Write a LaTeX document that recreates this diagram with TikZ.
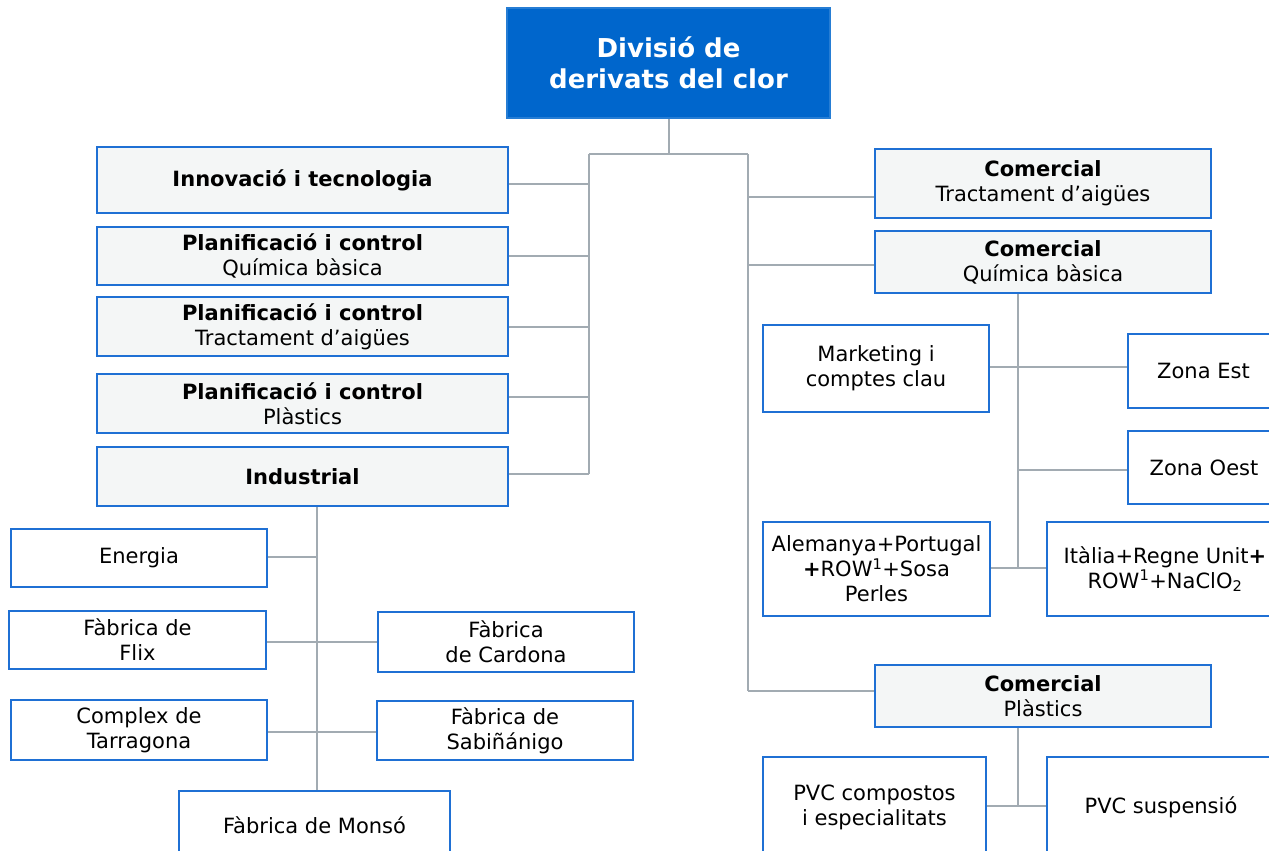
\documentclass[tikz,border=0pt]{standalone}
\usepackage{fontspec}
\setmainfont{DejaVu Sans}
\usetikzlibrary{calc}
\pgfdeclarelayer{bg}
\pgfsetlayers{bg,main}
\definecolor{bblue}{HTML}{1F70D4}
\definecolor{tblue}{HTML}{0066CC}
\definecolor{lgray}{HTML}{F4F6F6}
\definecolor{cgray}{HTML}{A2ABB2}
\newcommand{\bx}[7]{\node[#6, minimum width={(#4-#2)*1pt}, minimum height={(#5-#3)*1pt}] (#1) at ({(#2+#4)/2},{(#3+#5)/2}) {#7};}
\tikzset{
  base/.style={draw=bblue, line width=2.2pt, inner sep=0pt, align=center, font=\fontsize{21}{25}\selectfont},
  graybox/.style={base, fill=lgray},
  whitebox/.style={base, fill=white},
  topbox/.style={draw=tblue!85!white, fill=tblue, line width=1.5pt, inner sep=0pt, align=center, text=white, font=\fontsize{26}{31}\selectfont\bfseries},
  conn/.style={draw=cgray, line width=2.2pt}
}
\begin{document}
\begin{tikzpicture}[x=1pt,y=-1pt]
\useasboundingbox (0,0) rectangle (1269,851);
\clip (0,0) rectangle (1269,851);
% top
\bx{top}{507}{8}{830}{118}{topbox}{Divisió de\\derivats del clor}
% left column
\bx{inn}{97}{147}{508}{213}{graybox}{\textbf{Innovació i tecnologia}}
\bx{pcq}{97}{227}{508}{285}{graybox}{\textbf{Planificació i control}\\Química bàsica}
\bx{pct}{97}{297}{508}{356}{graybox}{\textbf{Planificació i control}\\Tractament d’aigües}
\bx{pcp}{97}{374}{508}{433}{graybox}{\textbf{Planificació i control}\\Plàstics}
\bx{ind}{97}{447}{508}{506}{graybox}{\textbf{Industrial}}
% industrial children
\bx{ene}{11}{529}{267}{587}{whitebox}{Energia}
\bx{fli}{9}{611}{266}{669}{whitebox}{Fàbrica de\\Flix}
\bx{car}{378}{612}{634}{672}{whitebox}{Fàbrica\\de Cardona}
\bx{tar}{11}{700}{267}{760}{whitebox}{Complex de\\Tarragona}
\bx{sab}{377}{701}{633}{760}{whitebox}{Fàbrica de\\Sabiñánigo}
\bx{mon}{179}{791}{450}{859}{whitebox}{Fàbrica de Monsó}
% right column
\bx{ct}{875}{149}{1211}{218}{graybox}{\textbf{Comercial}\\Tractament d’aigües}
\bx{cq}{875}{231}{1211}{293}{graybox}{\textbf{Comercial}\\Química bàsica}
\bx{mk}{763}{325}{989}{412}{whitebox}{Marketing i\\comptes clau}
\bx{ze}{1128}{334}{1279}{408}{whitebox}{Zona Est}
\bx{zo}{1128}{431}{1280}{504}{whitebox}{Zona Oest}
\bx{al}{763}{522}{990}{616}{whitebox}{Alemanya+Portugal\\\textbf{+}ROW\textsuperscript{1}+Sosa\\Perles}
\bx{it}{1047}{522}{1283}{616}{whitebox}{Itàlia+Regne Unit\textbf{+}\\ROW\textsuperscript{1}+NaClO\textsubscript{2}}
\bx{cp}{875}{665}{1211}{727}{graybox}{\textbf{Comercial}\\Plàstics}
\bx{pv1}{763}{757}{986}{857}{whitebox}{PVC compostos\\i especialitats}
\bx{pv2}{1047}{757}{1275}{857}{whitebox}{PVC suspensió}
% junctions and levels
\coordinate (jt) at (669,154);
\coordinate (jL) at (589,154);
\coordinate (jR) at (748,154);
\coordinate (jI) at (317,506);
\coordinate (jQ) at (1018,568);
\coordinate (jP) at (1018,806);
\coordinate (yinn) at (0,184);
\coordinate (ypcq) at (0,256);
\coordinate (ypct) at (0,327);
\coordinate (ypcp) at (0,397);
\coordinate (yind) at (0,474);
\coordinate (yct) at (0,197);
\coordinate (ycq) at (0,265);
\coordinate (ycp) at (0,691);
\coordinate (ymk) at (0,367);
\coordinate (yzo) at (0,470);
\coordinate (yene) at (0,557);
\coordinate (yfli) at (0,642);
\coordinate (ytar) at (0,732);
% connectors
\begin{pgfonlayer}{bg}
\draw[conn] (top.south -| jt) -- (jt);
\draw[conn] (jL) -- (jR);
\draw[conn] (jL) -- (jL |- yind);
\draw[conn] (inn.east |- yinn) -- (jL |- yinn);
\draw[conn] (pcq.east |- ypcq) -- (jL |- ypcq);
\draw[conn] (pct.east |- ypct) -- (jL |- ypct);
\draw[conn] (pcp.east |- ypcp) -- (jL |- ypcp);
\draw[conn] (ind.east |- yind) -- (jL |- yind);
\draw[conn] (jR) -- (jR |- ycp);
\draw[conn] (jR |- yct) -- (ct.west |- yct);
\draw[conn] (jR |- ycq) -- (cq.west |- ycq);
\draw[conn] (jR |- ycp) -- (cp.west |- ycp);
\draw[conn] (cq.south -| jQ) -- (jQ);
\draw[conn] (mk.east |- ymk) -- (ze.west |- ymk);
\draw[conn] (jQ |- yzo) -- (zo.west |- yzo);
\draw[conn] (al.east |- jQ) -- (it.west |- jQ);
\draw[conn] (cp.south -| jP) -- (jP);
\draw[conn] (pv1.east |- jP) -- (pv2.west |- jP);
\draw[conn] (ind.south -| jI) -- (mon.north -| jI);
\draw[conn] (ene.east |- yene) -- (jI |- yene);
\draw[conn] (fli.east |- yfli) -- (car.west |- yfli);
\draw[conn] (tar.east |- ytar) -- (sab.west |- ytar);
\end{pgfonlayer}
\end{tikzpicture}
\end{document}
